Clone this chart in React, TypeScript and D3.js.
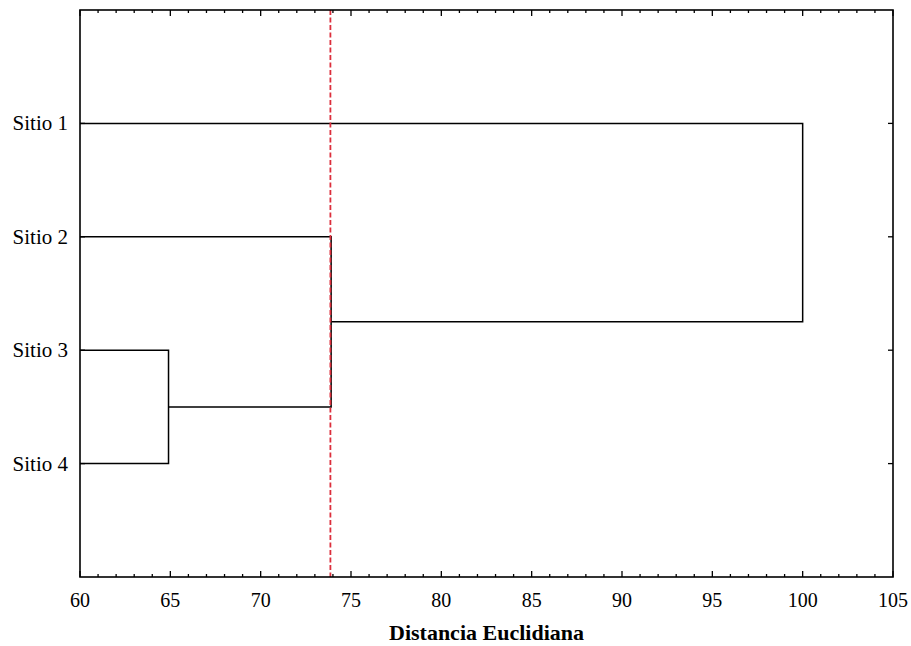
import React, { useRef, useEffect } from "react";
import { select, scaleLinear, scalePoint, range } from "d3";

// sites and merge heights
const sites = ["Sitio 1", "Sitio 2", "Sitio 3", "Sitio 4"];
// each merge: left / right are site names or earlier merge ids, height = distance
const merges = [
  { id: "m1", left: "Sitio 3", right: "Sitio 4", height: 64.9 },
  { id: "m2", left: "Sitio 2", right: "m1", height: 73.9 },
  { id: "m3", left: "Sitio 1", right: "m2", height: 100 },
];
const cutLevel = 73.86;
const xTicks = [60, 65, 70, 75, 80, 85, 90, 95, 100, 105];
const xTitle = "Distancia Euclidiana";

const W = 911;
const H = 646;
const margin = { top: 10, right: 18, bottom: 69, left: 80 };

function Dendrogram() {
  const svgRef = useRef(null);

  useEffect(() => {
    const svg = select(svgRef.current);
    svg.selectAll("*").remove();

    const x = scaleLinear().domain([60, 105]).range([margin.left, W - margin.right]);
    const y = scalePoint().domain(sites).range([margin.top, H - margin.bottom]).padding(1);
    const x0 = x.range()[0], x1 = x.range()[1];
    const y0 = y.range()[0], y1 = y.range()[1];

    const font = "'Liberation Serif', 'Times New Roman', serif";
    const g = svg.append("g");

    // node positions: leaves sit on the left edge
    const pos = {};
    sites.forEach((s) => (pos[s] = { x: x(60), y: y(s) }));

    merges.forEach((m) => {
      const a = pos[m.left], b = pos[m.right];
      const hx = x(m.height);
      g.append("path")
        .attr("d", `M${a.x},${a.y}H${hx}V${b.y}H${b.x}`)
        .attr("fill", "none")
        .attr("stroke", "#000")
        .attr("stroke-width", 1.5);
      pos[m.id] = { x: hx, y: (a.y + b.y) / 2 };
    });

    // cut line
    g.append("line")
      .attr("x1", x(cutLevel)).attr("x2", x(cutLevel))
      .attr("y1", y0).attr("y2", y1)
      .attr("stroke", "#dc2f3c")
      .attr("stroke-width", 1.8)
      .attr("stroke-dasharray", "5,2.5");

    // frame
    g.append("rect")
      .attr("x", x0).attr("y", y0)
      .attr("width", x1 - x0).attr("height", y1 - y0)
      .attr("fill", "none").attr("stroke", "#000").attr("stroke-width", 1.6);

    // x ticks (inward, bottom and top)
    const minor = range(60, 106, 1);
    minor.forEach((v) => {
      const len = v % 5 === 0 ? 6 : 3;
      g.append("line").attr("x1", x(v)).attr("x2", x(v))
        .attr("y1", y1).attr("y2", y1 - len)
        .attr("stroke", "#000").attr("stroke-width", 1.3);
      g.append("line").attr("x1", x(v)).attr("x2", x(v))
        .attr("y1", y0).attr("y2", y0 + len)
        .attr("stroke", "#000").attr("stroke-width", 1.3);
    });

    // y ticks (inward, left and right)
    sites.forEach((s) => {
      g.append("line").attr("x1", x1).attr("x2", x1 - 5)
        .attr("y1", y(s)).attr("y2", y(s))
        .attr("stroke", "#000").attr("stroke-width", 1.3);
      g.append("line").attr("x1", x0).attr("x2", x0 + 5)
        .attr("y1", y(s)).attr("y2", y(s))
        .attr("stroke", "#000").attr("stroke-width", 1.3);
    });

    g.selectAll(".xlab")
      .data(xTicks)
      .join("text")
      .attr("class", "xlab")
      .attr("x", (d) => x(d))
      .attr("y", y1 + 30)
      .attr("text-anchor", "middle")
      .attr("font-family", font)
      .attr("font-size", 20)
      .text((d) => d);

    g.selectAll(".ylab")
      .data(sites)
      .join("text")
      .attr("class", "ylab")
      .attr("x", x0 - 12)
      .attr("y", (d) => y(d) + 7)
      .attr("text-anchor", "end")
      .attr("font-family", font)
      .attr("font-size", 21)
      .text((d) => d);

    g.append("text")
      .attr("x", (x0 + x1) / 2)
      .attr("y", H - 6)
      .attr("text-anchor", "middle")
      .attr("font-family", font)
      .attr("font-weight", "bold")
      .attr("font-size", 22)
      .text(xTitle);
  }, []);

  return <svg ref={svgRef} width={W} height={H} style={{ display: "block" }} />;
}

export default function App() {
  return (
    <div style={{ position: "absolute", left: 0, top: 0, background: "#fff" }}>
      <Dendrogram />
    </div>
  );
}
